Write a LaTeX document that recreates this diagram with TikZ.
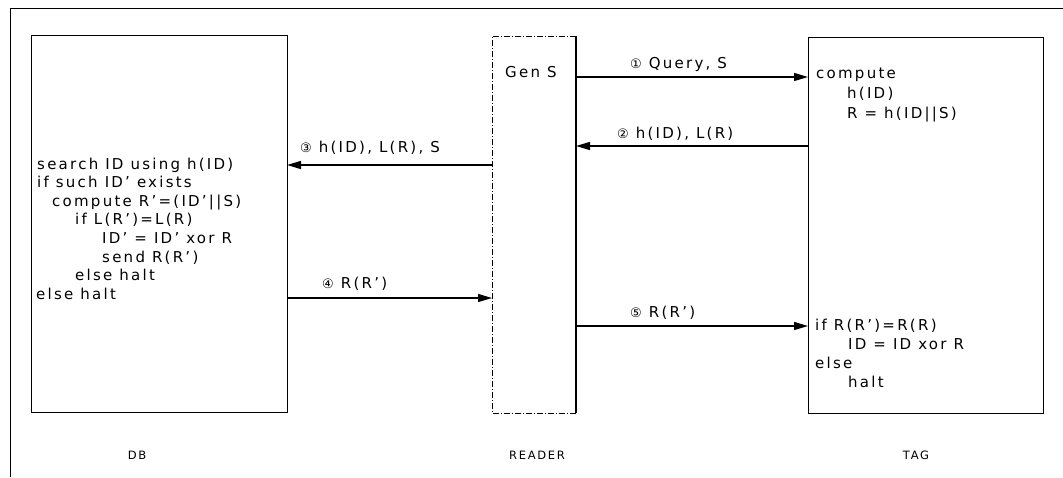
\documentclass[tikz,border=0pt]{standalone}
\usepackage{fontspec}
\setmainfont{DejaVu Sans}[LetterSpace=15]
\newfontfamily\circfont{DejaVu Sans}
\usetikzlibrary{arrows.meta}
\newcommand{\cnum}[1]{{\circfont\fontsize{13}{13}\selectfont #1}}
\begin{document}
\begin{tikzpicture}[x=1pt,y=-1pt,
  box/.style={draw, line width=1pt, inner sep=0pt, outer sep=0pt},
  txt/.style={inner sep=0pt, font=\fontsize{15}{18}\selectfont, anchor=base west},
  captxt/.style={inner sep=0pt, font=\fontsize{11.5}{13}\selectfont, anchor=base},
  arr/.style={line width=1.3pt, -{Triangle[length=14pt,width=8pt]}}]
\useasboundingbox (0,0) rectangle (1063,477);
% outer frame (partly visible)
\coordinate (fbl) at (10,477);
\coordinate (ftl) at (10,8);
\coordinate (ftr) at (1063,8);
\draw[line width=0.8pt] (fbl) -- (ftl) -- (ftr);
% boxes
\node[box, minimum width=256pt, minimum height=377pt] (db) at (159,223.5) {};
\node[inner sep=0pt, outer sep=0pt, minimum width=84pt, minimum height=377pt] (reader) at (534,224.5) {};
\node[box, minimum width=235pt, minimum height=376pt] (tag) at (925.5,225) {};
\draw[line width=0.6pt, dash pattern=on 6pt off 2pt on 1pt off 2pt]
  (reader.north east) -- (reader.north west) -- (reader.south west) -- (reader.south east);
\draw[line width=1.3pt] (reader.north east) -- (reader.south east);
% DB text
\foreach \i/\x/\lin in {0/37/{search ID using h(ID)},1/37/{if such ID' exists},2/52/{compute R'=(ID'||S)},3/75/{if L(R')=L(R)},4/102/{ID' = ID' xor R},5/102/{send R(R')},6/75/{else halt},7/36/{else halt}}
  \node[txt] (db\i) at (\x,{169+18.6*\i}) {\lin};
% reader text
\node[txt] (gen) at (505,77) {Gen S};
% tag text
\node[txt] (tg1) at (816,78) {compute};
\node[txt] (tg2) at (847,98) {h(ID)};
\node[txt] (tg3) at (847,118) {R = h(ID||S)};
\node[txt] (tg4) at (815,330) {if R(R')=R(R)};
\node[txt] (tg5) at (848,349) {ID = ID xor R};
\node[txt] (tg6) at (815,368) {else};
\node[txt] (tg7) at (848,387) {halt};
% arrows
\coordinate (a1) at (0,77);
\coordinate (a2) at (0,146);
\coordinate (a3) at (0,165);
\coordinate (a4) at (0,298);
\coordinate (a5) at (0,326);
\draw[arr] (reader.east |- a1) -- (tag.west |- a1);
\draw[arr] (tag.west |- a2) -- (reader.east |- a2);
\draw[arr] (reader.west |- a3) -- (db.east |- a3);
\draw[arr] (db.east |- a4) -- (reader.west |- a4);
\draw[arr] (reader.east |- a5) -- (tag.west |- a5);
% labels
\node[txt] (l1) at (630,68) {\cnum{①} Query, S};
\node[txt] (l2) at (617,138) {\cnum{②} h(ID), L(R)};
\node[txt] (l3) at (300,152) {\cnum{③} h(ID), L(R), S};
\node[txt] (l4) at (322,288) {\cnum{④} R(R')};
\node[txt] (l5) at (630,317) {\cnum{⑤} R(R')};
% captions
\node[captxt] (cdb) at (137,459) {DB};
\node[captxt] (crd) at (537,459) {READER};
\node[captxt] (ctg) at (916,459) {TAG};
\end{tikzpicture}
\end{document}
